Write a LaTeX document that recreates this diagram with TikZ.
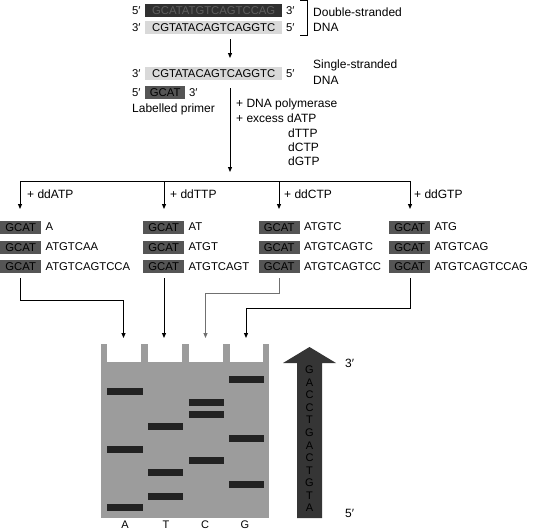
\documentclass[tikz,border=0pt]{standalone}
\usepackage{fontspec}
\setmainfont{Liberation Sans}
\usetikzlibrary{arrows.meta}
\definecolor{darkbox}{HTML}{303030}
\definecolor{darktext}{HTML}{5E5E5E}
\definecolor{midbox}{HTML}{555555}
\definecolor{lightbox}{HTML}{D9D9D9}
\definecolor{gelgray}{HTML}{9C9C9C}
\definecolor{bandcol}{HTML}{222222}
\definecolor{bigarrow}{HTML}{353535}
\definecolor{grayline}{HTML}{707070}
\begin{document}
\begin{tikzpicture}[x=1pt,y=-1pt,
  lbl/.style={font=\fontsize{12}{14}\selectfont, inner sep=0, anchor=west},
  seq/.style={font=\fontsize{11.3}{13}\selectfont, inner sep=0, anchor=west},
  bx/.style={font=\fontsize{11.3}{13}\selectfont, inner sep=0, anchor=west,
    minimum height=13, text height=8.2, text depth=0, text=black},
  arr/.style={-{Triangle[length=5pt,width=4pt]}, line width=1pt},
  ln/.style={line width=1pt},
  band/.style={fill=bandcol},
  lane/.style={font=\fontsize{11}{13}\selectfont, inner sep=0}
]
\useasboundingbox (0,0) rectangle (534,531);

% ---- double-stranded DNA
\node[seq] (d5a) at (132,11) {5′};
\node[bx, fill=darkbox, minimum width=137, text=darktext] (ds1) at (145,10) {GCATATGTCAGTCCAG};
\node[seq] (d3a) at (286,11) {3′};
\node[seq] (d3b) at (132,28) {3′};
\node[bx, fill=lightbox, minimum width=137] (ds2) at (145,27.5) {CGTATACAGTCAGGTC};
\node[seq] (d5b) at (286,28) {5′};
\draw[ln] (300,0.5) -- (307,0.5) -- (307,35) -- (300,35);
\node[lbl] (dslab1) at (313,12) {Double-stranded};
\node[lbl] (dslab2) at (313,27) {DNA};

\coordinate (a1s) at (230,39);
\coordinate (a1e) at (230,58);
\draw[arr] (a1s) -- (a1e);

% ---- single-stranded DNA
\node[seq] (s3) at (132,74) {3′};
\node[bx, fill=lightbox, minimum width=137] (ss) at (145,73.5) {CGTATACAGTCAGGTC};
\node[seq] (s5) at (286,74) {5′};
\node[lbl] (sslab1) at (313,65) {Single-stranded};
\node[lbl] (sslab2) at (313,80) {DNA};

\node[seq] (pr5) at (132,93) {5′};
\node[bx, fill=midbox, minimum width=40] (primer) at (145,92.5) {GCAT};
\node[seq] (pr3) at (189,93) {3′};
\node[lbl] (prlab) at (132,109) {Labelled primer};

\coordinate (a2s) at (230,88);
\coordinate (a2e) at (230,172);
\draw[arr] (a2s) -- (a2e);
\node[lbl] (r1) at (236,104) {+ DNA polymerase};
\node[lbl] (r2) at (236,118) {+ excess dATP};
\node[lbl] (r3) at (288,133) {dTTP};
\node[lbl] (r4) at (288,147) {dCTP};
\node[lbl] (r5) at (288,161) {dGTP};

% ---- split into four reactions
\coordinate (hA) at (20,181);
\coordinate (hT) at (164,181);
\coordinate (hC) at (279,181);
\coordinate (hG) at (410,181);
\coordinate (tA) at (20,209);
\coordinate (tT) at (164,209);
\coordinate (tC) at (279,209);
\coordinate (tG) at (410,209);
\draw[ln] (hA) -- (hG);
\draw[arr] (hA) -- (tA);
\draw[arr] (hT) -- (tT);
\draw[arr] (hC) -- (tC);
\draw[arr] (hG) -- (tG);
\node[lbl] (ddA) at (27,194) {+ ddATP};
\node[lbl] (ddT) at (170,194) {+ ddTTP};
\node[lbl] (ddC) at (284,194) {+ ddCTP};
\node[lbl] (ddG) at (414,194) {+ ddGTP};

% ---- fragments
\foreach \cx/\c/\ta/\tb/\tc in {0/A/A/ATGTCAA/ATGTCAGTCCA,
                             143/T/AT/ATGT/ATGTCAGT,
                             258.5/C/ATGTC/ATGTCAGTC/ATGTCAGTCC,
                             389/G/ATG/ATGTCAG/ATGTCAGTCCAG}{
  \node[bx, fill=midbox, minimum width=41] (g\c1) at (\cx,227) {GCAT};
  \node[seq] (f\c1) at ([xshift=4]g\c1.east) {\ta};
  \node[bx, fill=midbox, minimum width=41] (g\c2) at (\cx,247) {GCAT};
  \node[seq] (f\c2) at ([xshift=4]g\c2.east) {\tb};
  \node[bx, fill=midbox, minimum width=41] (g\c3) at (\cx,266.5) {GCAT};
  \node[seq] (f\c3) at ([xshift=4]g\c3.east) {\tc};
}

% ---- gel
\fill[gelgray] (100.7,344) rectangle (269,518);
\fill[white] (107,343) rectangle (140.5,362);
\fill[white] (148,343) rectangle (182,362);
\fill[white] (189,343) rectangle (223,362);
\fill[white] (229.5,343) rectangle (263,362);
% lane A
\fill[band] (107,388) rectangle (143,395);
\fill[band] (107,446) rectangle (143,453);
\fill[band] (107,504) rectangle (143,511);
% lane T
\fill[band] (148,423) rectangle (183,430);
\fill[band] (148,469) rectangle (183,476);
\fill[band] (148,493) rectangle (183,499.5);
% lane C
\fill[band] (189,399) rectangle (224,406);
\fill[band] (189,411) rectangle (224,418);
\fill[band] (189,457) rectangle (224,464);
% lane G
\fill[band] (229,376) rectangle (264,383);
\fill[band] (229,435) rectangle (264,442);
\fill[band] (229,481) rectangle (264,488);

\node[lane] (lA) at (125,525) {A};
\node[lane] (lT) at (166,525) {T};
\node[lane] (lC) at (205,525) {C};
\node[lane] (lG) at (245,525) {G};

% ---- connectors from reactions to lanes
\coordinate (bA) at (20,278);
\coordinate (bT) at (164,278);
\coordinate (bC) at (279,278);
\coordinate (bG) at (410,278);
\coordinate (inA) at (123.5,338);
\coordinate (inT) at (164,338);
\coordinate (inC) at (205.5,338);
\coordinate (inG) at (246,338);
\draw[arr] (bA) -- (20,300) -| (inA);
\draw[arr] (bT) -- (inT);
\draw[arr, grayline] (bC) -- (279,293.5) -| (inC);
\draw[arr] (bG) -- (410,308) -| (inG);

% ---- reading arrow
\fill[bigarrow] (297,518) -- (297,363) -- (283,363) -- (309.5,347) -- (336,363)
  -- (322,363) -- (322,518) -- cycle;
\foreach \l [count=\i from 0] in {G,A,C,C,T,G,A,C,T,G,T,A}{
  \node[lane, text=black] (rd\i) at (309.5,{370+12.55*\i}) {\l};
}
\node[lbl] (e3) at (345,363) {3′};
\node[lbl] (e5) at (345,513) {5′};
\end{tikzpicture}
\end{document}
